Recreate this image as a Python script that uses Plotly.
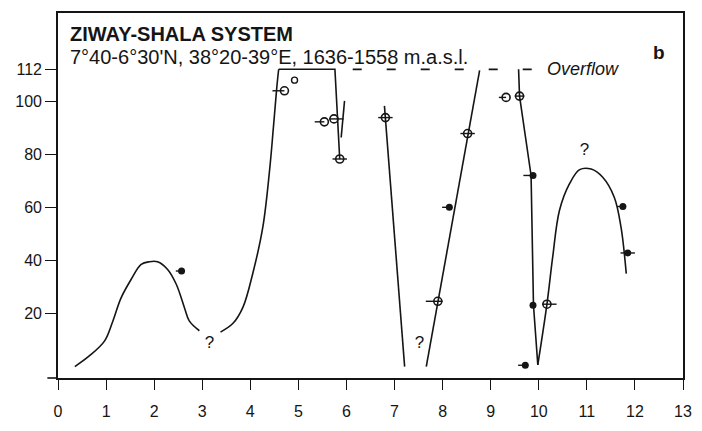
import plotly.graph_objects as go

# ---------------- data (ka BP vs lake level, m above reference) ----------------
c1_x = [0.35, 0.65, 0.97, 1.14, 1.31, 1.52, 1.73, 1.90, 2.07, 2.28, 2.46, 2.63, 2.73, 2.94]
c1_y = [0.0, 4.0, 9.7, 17.1, 25.8, 32.8, 38.5, 39.5, 39.5, 36.6, 31.0, 22.2, 17.2, 13.5]

c2_x = [3.38, 3.64, 3.85, 4.05, 4.26, 4.40, 4.48, 4.55, 4.59]
c2_y = [13.0, 16.3, 22.5, 35.0, 52.5, 73.8, 90.0, 105.0, 112.0]

c3_x = [4.59, 5.76, 5.86]
c3_y = [112.0, 112.0, 78.2]

c4_x = [5.96, 5.89]
c4_y = [100.1, 86.3]

c5_x = [6.79, 7.21]
c5_y = [98.2, 0.0]

c6_x = [7.66, 8.77]
c6_y = [0.0, 111.6]

c7_x = [9.58, 9.60, 9.84, 9.89, 9.98]
c7_y = [112.0, 101.9, 72.0, 23.1, 0.6]

c8_x = [9.98, 10.17, 10.29, 10.43, 10.64, 10.85, 11.09, 11.33, 11.57, 11.71, 11.82]
c8_y = [0.6, 23.5, 41.3, 58.8, 68.9, 74.2, 74.4, 71.3, 63.8, 52.6, 35.0]

overflow_x = [6.13, 9.93]
overflow_y = [112, 112]

open_x = [4.71, 5.54, 5.74, 5.86, 6.81, 7.90, 8.52, 9.32, 9.60, 10.17]
open_y = [103.9, 92.2, 93.3, 78.2, 93.8, 24.6, 87.8, 101.4, 101.9, 23.5]
open_err_minus = [0.25, 0.2, 0.1, 0.15, 0.15, 0.25, 0.15, 0.15, 0.1, 0.1]
open_err_plus = [0.0, 0.0, 0.2, 0.15, 0.15, 0.1, 0.15, 0.0, 0.1, 0.2]

small_x = [4.92]
small_y = [107.9]

filled_x = [2.57, 8.14, 9.88, 9.88, 9.72, 11.75, 11.85]
filled_y = [36.0, 60.0, 72.0, 23.1, 0.5, 60.3, 42.8]
filled_err_minus = [0.12, 0.15, 0.2, 0.0, 0.15, 0.12, 0.15]
filled_err_plus = [0.0, 0.0, 0.0, 0.0, 0.0, 0.0, 0.15]

q_x = [3.15, 7.52, 10.95]
q_y = [8.7, 8.7, 81.3]

x_ticks = list(range(0, 14))
y_ticks = [20, 40, 60, 80, 100, 112]
y_ticktext = ["20", "40", "60", "80", "100", "112"]

title_text = "<b>ZIWAY-SHALA SYSTEM</b>"
sub_text = "7°40-6°30'N, 38°20-39°E, 1636-1558 m.a.s.l."

# ---------------- figure ----------------
INK = "#151515"
FONT = "Liberation Sans, Arial, sans-serif"
LW = 1.6

fig = go.Figure()

def line(x, y, shape="linear", dash="solid", width=LW):
    fig.add_trace(go.Scatter(x=x, y=y, mode="lines",
                             line=dict(color=INK, width=width, shape=shape, dash=dash,
                                       smoothing=1.0 if shape == "spline" else None),
                             hoverinfo="skip", showlegend=False))

line(c1_x, c1_y, "spline")
line(c2_x, c2_y, "spline")
line(c3_x, c3_y)
line(c4_x, c4_y)
line(c5_x, c5_y)
line(c6_x, c6_y)
line(c7_x, c7_y)
line(c8_x, c8_y, "spline")
line(overflow_x, overflow_y, dash="9px,25px", width=1.8)

fig.add_trace(go.Scatter(
    x=open_x, y=open_y, mode="markers",
    marker=dict(symbol="circle-open", size=8, color=INK, line=dict(width=1.6, color=INK)),
    error_x=dict(type="data", symmetric=False, array=open_err_plus,
                 arrayminus=open_err_minus, width=0, thickness=1.4, color=INK),
    hoverinfo="skip", showlegend=False))

fig.add_trace(go.Scatter(
    x=small_x, y=small_y, mode="markers",
    marker=dict(symbol="circle-open", size=6, color=INK, line=dict(width=1.4, color=INK)),
    hoverinfo="skip", showlegend=False))

fig.add_trace(go.Scatter(
    x=filled_x, y=filled_y, mode="markers",
    marker=dict(symbol="circle", size=7, color=INK),
    error_x=dict(type="data", symmetric=False, array=filled_err_plus,
                 arrayminus=filled_err_minus, width=0, thickness=1.4, color=INK),
    hoverinfo="skip", showlegend=False))

fig.add_trace(go.Scatter(
    x=q_x, y=q_y, mode="text", text=["?"] * len(q_x),
    textfont=dict(family=FONT, size=17, color=INK),
    hoverinfo="skip", showlegend=False))

fig.add_annotation(x=0.2, y=125.3, text=title_text, showarrow=False,
                   xanchor="left", yanchor="middle",
                   font=dict(family=FONT, size=20, color=INK))
fig.add_annotation(x=0.2, y=116.7, text=sub_text, showarrow=False,
                   xanchor="left", yanchor="middle",
                   font=dict(family=FONT, size=20, color=INK))
fig.add_annotation(x=12.51, y=118.2, text="<b>b</b>", showarrow=False,
                   xanchor="center", yanchor="middle",
                   font=dict(family=FONT, size=19, color=INK))
fig.add_annotation(x=10.12, y=112, text="<i>Overflow</i>", showarrow=False,
                   xanchor="left", yanchor="middle",
                   font=dict(family=FONT, size=18, color=INK))

# x-axis line extending left of the y-axis
fig.add_shape(type="line", xref="paper", yref="paper", x0=-0.017, x1=0, y0=0, y1=0,
              line=dict(color=INK, width=1.6))

fig.update_layout(
    width=694, height=423,
    margin=dict(l=50, r=19, t=3, b=53),
    paper_bgcolor="white", plot_bgcolor="white",
    font=dict(family=FONT, size=16, color=INK),
    xaxis=dict(range=[0, 13], tickvals=x_ticks, ticks="outside", ticklen=10, tickwidth=1.4,
               tickcolor=INK, showline=True, linecolor=INK, linewidth=1.6, mirror=True,
               showgrid=False, zeroline=False, tickfont=dict(size=16), fixedrange=True,
               ticklabelstandoff=8),
    yaxis=dict(range=[-4.3, 133.2], tickvals=y_ticks, ticktext=y_ticktext, ticks="outside",
               ticklen=11, tickwidth=1.4, tickcolor=INK, showline=True, linecolor=INK,
               linewidth=1.6, mirror=True, showgrid=False, zeroline=False,
               tickfont=dict(size=16), fixedrange=True),
)

fig.write_html("out.html")
